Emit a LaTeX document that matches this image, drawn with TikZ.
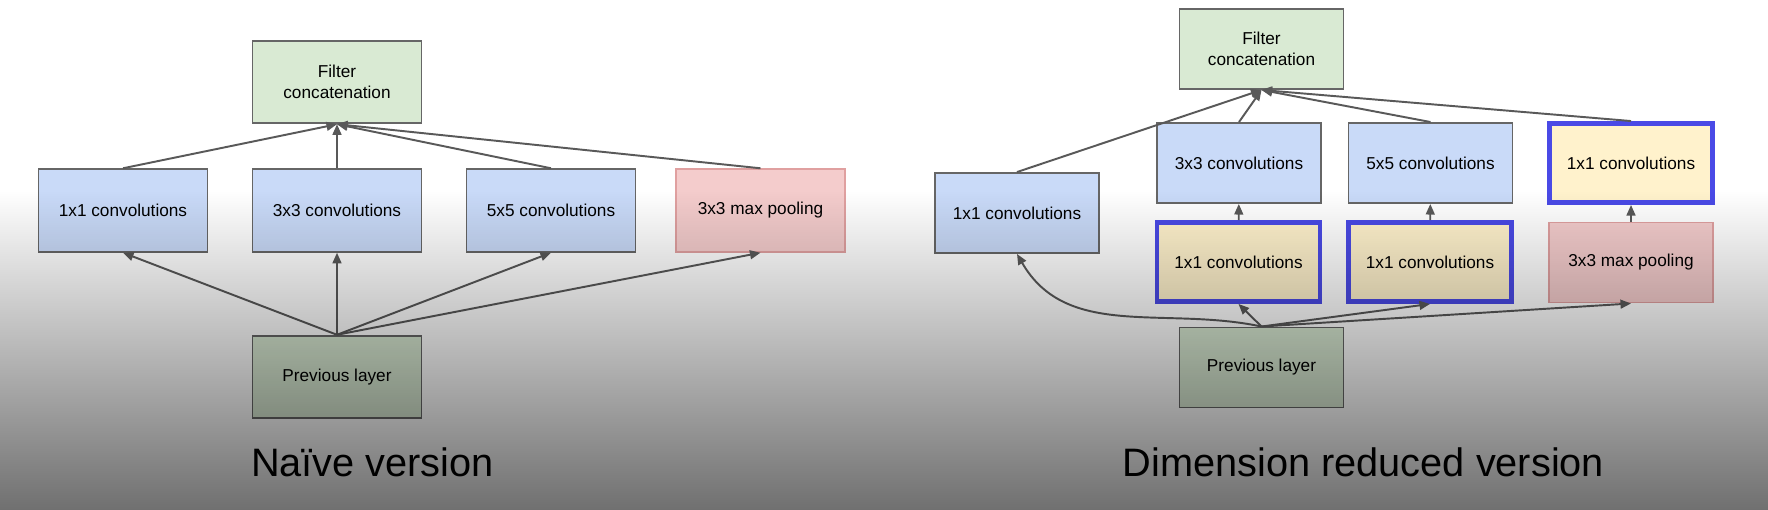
\documentclass[tikz,border=0pt]{standalone}
\usepackage{fontspec}
\setmainfont{Liberation Sans}
\usepackage{tikz}
\usetikzlibrary{positioning,arrows.meta}
\definecolor{catgreen}{HTML}{D9EAD3}
\definecolor{convblue}{HTML}{C9DAF8}
\definecolor{poolpink}{HTML}{F4CCCC}
\definecolor{poolline}{HTML}{E0A0A0}
\definecolor{reduceyellow}{HTML}{FFF2CC}
\definecolor{reduceline}{HTML}{4A4AE6}
\definecolor{boxline}{HTML}{666666}
\definecolor{linkgray}{HTML}{595959}

\begin{document}
\begin{tikzpicture}[
  >={Triangle[length=6pt,width=5pt]},
  every node/.style={font=\fontsize{9.8}{11.9}\selectfont},
  box/.style={draw=boxline, line width=1.1pt, minimum width=3.38cm, minimum height=1.65cm, inner sep=2pt, align=center},
  narrow/.style={minimum width=3.28cm, minimum height=1.6cm},
  concatbox/.style={box, fill=catgreen},
  convbox/.style={box, fill=convblue},
  poolbox/.style={box, fill=poolpink, draw=poolline},
  reducebox/.style={box, narrow, fill=reduceyellow, draw=reduceline, line width=2.8pt, minimum width=3.26cm, minimum height=1.58cm},
  prevbox/.style={box, fill=catgreen},
  link/.style={->, draw=linkgray, line width=1.1pt},
  title/.style={font=\fontsize{22.6}{27}\selectfont, inner sep=0pt, anchor=base}]
  \useasboundingbox (0,0) rectangle (35.36,10.18);
  \fill[white] (0,0) rectangle (35.36,10.18);
  % naive version
  \node[concatbox] (concat) at (6.74,8.54) {Filter\\concatenation};
  \node[convbox]   (c11)  at (2.46,5.97)  {1x1 convolutions};
  \node[convbox]   (c33)  at (6.74,5.97)  {3x3 convolutions};
  \node[convbox]   (c55)  at (11.02,5.97) {5x5 convolutions};
  \node[poolbox]   (pool) at (15.21,5.97) {3x3 max pooling};
  \node[prevbox]   (prev) at (6.74,2.64)  {Previous layer};
  \foreach \n in {c11,c33,c55,pool} {
    \draw[link] (prev.north) -- (\n.south);
    \draw[link] (\n.north) -- (concat.south);
  }
  \node[title] (naive) at (7.45,0.65) {Naïve version};
  % dimension reduced version
  \node[concatbox, narrow] (concat2) at (25.23,9.20) {Filter\\concatenation};
  \node[convbox, narrow]   (a11)  at (20.34,5.92) {1x1 convolutions};
  \node[convbox, narrow]   (a33)  at (24.78,6.92) {3x3 convolutions};
  \node[convbox, narrow]   (a55)  at (28.61,6.92) {5x5 convolutions};
  \node[reducebox]         (b11)  at (32.62,6.92) {1x1 convolutions};
  \node[reducebox]         (r33)  at (24.77,4.94) {1x1 convolutions};
  \node[reducebox]         (r55)  at (28.60,4.94) {1x1 convolutions};
  \node[poolbox, narrow]   (pool2) at (32.62,4.93) {3x3 max pooling};
  \node[prevbox, narrow]   (prev2) at (25.23,2.83) {Previous layer};
  \foreach \n in {a11,a33,a55,b11}
    \draw[link] (\n.north) -- (concat2.south);
  \draw[link] (r33) -- (a33);
  \draw[link] (r55) -- (a55);
  \draw[link] (pool2) -- (b11);
  \draw[link] (prev2.north) to[out=168,in=-60] (a11.south);
  \foreach \n in {r33,r55,pool2}
    \draw[link] (prev2.north) -- (\n.south);
  \node[title] (reduced) at (27.27,0.66) {Dimension reduced version};
  % darkening towards the bottom
  \begin{scope}[blend mode=multiply]
    \shade[top color=white, bottom color=black!56] (0,0) rectangle (35.36,6.38);
  \end{scope}
\end{tikzpicture}
\end{document}
